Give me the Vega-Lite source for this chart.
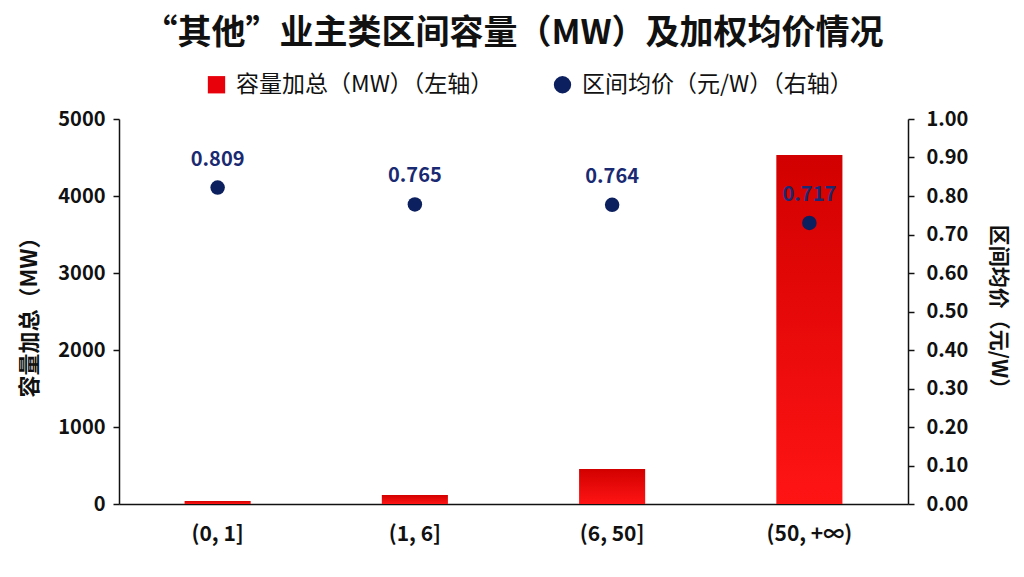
{
  "$schema": "https://vega.github.io/schema/vega-lite/v6.json",
  "description": "“其他”业主类区间容量（MW）及加权均价情况",
  "width": 789,
  "height": 385,
  "autosize": {"type": "none"},
  "padding": {"left": 119, "top": 119, "right": 116, "bottom": 73},
  "background": "white",
  "title": {
    "text": "“其他”业主类区间容量（MW）及加权均价情况",
    "font": "Noto Sans CJK SC",
    "fontSize": 34,
    "fontWeight": "bold",
    "color": "#111111",
    "anchor": "middle",
    "offset": 22
  },
  "data": {
    "values": [
      {"range": "(0, 1]", "capacity": 40, "price": 0.809, "series": "区间均价（元/W）（右轴）"},
      {"range": "(1, 6]", "capacity": 118, "price": 0.765, "series": "区间均价（元/W）（右轴）"},
      {"range": "(6, 50]", "capacity": 455, "price": 0.764, "series": "区间均价（元/W）（右轴）"},
      {"range": "(50, +∞)", "capacity": 4532, "price": 0.717, "series": "区间均价（元/W）（右轴）"}
    ]
  },
  "encoding": {
    "x": {
      "field": "range",
      "type": "nominal",
      "sort": null,
      "scale": {"paddingInner": 0.665, "paddingOuter": 0.3325},
      "axis": {
        "title": null,
        "labelAngle": 0,
        "ticks": false,
        "labelPadding": 19,
        "labelFontSize": 21,
        "labelFontWeight": "bold",
        "domainColor": "#111111",
        "domainWidth": 1.5
      }
    }
  },
  "layer": [
    {
      "mark": {
        "type": "bar",
        "color": {
          "gradient": "linear",
          "x1": 0, "y1": 0, "x2": 0, "y2": 1,
          "stops": [
            {"offset": 0, "color": "#d20000"},
            {"offset": 1, "color": "#ff1414"}
          ]
        }
      },
      "encoding": {
        "y": {
          "field": "capacity",
          "type": "quantitative",
          "scale": {"domain": [0, 5000]},
          "axis": {
            "title": "容量加总（MW）",
            "format": "d",
            "values": [0, 1000, 2000, 3000, 4000, 5000],
            "grid": false,
            "tickSize": 6,
            "tickColor": "#111111",
            "tickWidth": 1.5,
            "domainColor": "#111111",
            "domainWidth": 1.5,
            "labelPadding": 8,
            "labelFontSize": 20,
            "labelFontWeight": "bold",
            "titleFontSize": 22,
            "titlePadding": 16
          }
        },
        "tooltip": [
          {"field": "range", "title": "区间"},
          {"field": "capacity", "type": "quantitative", "title": "容量加总（MW）"}
        ]
      }
    },
    {
      "layer": [
        {
          "mark": {"type": "point", "filled": true, "opacity": 1, "size": 210, "yOffset": -5},
          "encoding": {
            "color": {
              "field": "series",
              "type": "nominal",
              "scale": {
                "domain": ["容量加总（MW）（左轴）", "区间均价（元/W）（右轴）"],
                "range": ["#e8000a", "#0c1f5e"]
              },
              "legend": {
                "title": null,
                "orient": "none",
                "legendX": 86,
                "legendY": -46,
                "direction": "horizontal",
                "columns": 2,
                "columnPadding": 56,
                "symbolSize": 300,
                "symbolOpacity": 1,
                "labelFontSize": 23,
                "labelLimit": 400,
                "labelOffset": 8,
                "labelColor": "#111111"
              }
            },
            "shape": {
              "field": "series",
              "type": "nominal",
              "scale": {
                "domain": ["容量加总（MW）（左轴）", "区间均价（元/W）（右轴）"],
                "range": ["square", "circle"]
              },
              "legend": {
                "title": null,
                "orient": "none",
                "legendX": 86,
                "legendY": -46,
                "direction": "horizontal",
                "columns": 2,
                "columnPadding": 56,
                "symbolSize": 300,
                "symbolOpacity": 1,
                "labelFontSize": 23,
                "labelLimit": 400,
                "labelOffset": 8,
                "labelColor": "#111111"
              }
            },
            "tooltip": [
              {"field": "range", "title": "区间"},
              {"field": "price", "type": "quantitative", "title": "区间均价（元/W）", "format": ".3f"}
            ]
          }
        },
        {
          "mark": {
            "type": "text",
            "dy": -33,
            "fontSize": 20,
            "fontWeight": "bold",
            "color": "#1a2a72"
          },
          "encoding": {
            "text": {"field": "price", "type": "quantitative", "format": ".3f"}
          }
        }
      ],
      "encoding": {
        "y": {
          "field": "price",
          "type": "quantitative",
          "scale": {"domain": [0, 1]},
          "axis": {
            "title": "区间均价（元/W）",
            "orient": "right",
            "format": ".2f",
            "values": [0, 0.1, 0.2, 0.3, 0.4, 0.5, 0.6, 0.7, 0.8, 0.9, 1],
            "grid": false,
            "tickSize": 6,
            "tickColor": "#111111",
            "tickWidth": 1.5,
            "domainColor": "#111111",
            "domainWidth": 1.5,
            "labelPadding": 12,
            "labelFontSize": 20,
            "labelFontWeight": "bold",
            "titleFontSize": 21,
            "titlePadding": 20
          }
        }
      }
    }
  ],
  "resolve": {"scale": {"y": "independent"}},
  "config": {
    "font": "Noto Sans CJK SC",
    "view": {"stroke": null},
    "axis": {
      "labelColor": "#111111",
      "titleColor": "#111111",
      "titleFontWeight": "bold"
    },
    "legend": {"labelFont": "Noto Sans CJK SC"}
  }
}
